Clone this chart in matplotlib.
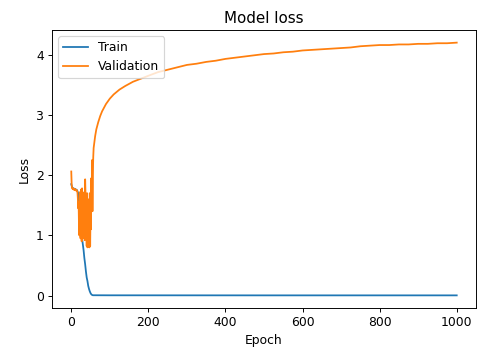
import matplotlib
matplotlib.use("Agg")
import matplotlib.pyplot as plt

# Validation loss
val_epochs = [0, 1, 2, 3, 4, 5, 6, 7, 8, 9, 10, 11, 12, 13, 14, 15, 16, 17, 18, 19,
              20, 21, 22, 23, 24, 25, 26, 27, 28, 29, 30, 31, 32, 33, 34, 35, 36, 37, 38, 39,
              40, 41, 42, 43, 44, 45, 46, 47, 48, 49, 50, 51, 52, 53, 54, 55, 56, 57, 58, 60,
              62, 65, 70, 75, 80, 90, 100, 110, 125, 140, 160, 180, 200, 225, 250, 275, 300,
              325, 350, 375, 400, 425, 450, 475, 500, 525, 550, 575, 600, 625, 650, 675, 700,
              725, 750, 775, 800, 825, 850, 875, 900, 925, 950, 975, 1000]
val_loss = [2.06, 1.85, 1.78, 1.78, 1.77, 1.78, 1.76, 1.77, 1.76, 1.77, 1.75, 1.76, 1.75, 1.74, 1.75, 1.73, 1.72, 1.62, 1.45, 1.55,
            1.15, 1.00, 1.30, 1.72, 0.95, 1.76, 1.10, 0.90, 1.78, 1.20, 0.95, 1.60, 1.00, 1.35, 1.72, 0.92, 1.93, 1.68, 1.05, 1.50,
            0.82, 1.70, 0.80, 1.45, 1.55, 1.00, 1.60, 0.80, 1.70, 0.82, 1.40, 1.10, 1.95, 1.40, 2.25, 1.40, 2.00, 2.30, 2.45, 2.55,
            2.65, 2.76, 2.88, 2.98, 3.06, 3.18, 3.27, 3.34, 3.42, 3.48, 3.55, 3.60, 3.65, 3.71, 3.75, 3.79, 3.83,
            3.85, 3.88, 3.90, 3.93, 3.95, 3.97, 3.99, 4.01, 4.02, 4.04, 4.05, 4.07, 4.08, 4.09, 4.10, 4.11,
            4.12, 4.14, 4.15, 4.16, 4.16, 4.17, 4.17, 4.18, 4.18, 4.19, 4.19, 4.20]

# Training loss
train_epochs = [0, 2, 5, 10, 15, 18, 20, 22, 25, 28, 30, 32, 34, 36, 38, 40, 42, 44, 46, 48,
                50, 52, 54, 56, 100, 500, 1000]
train_loss = [1.85, 1.80, 1.78, 1.77, 1.75, 1.70, 1.55, 1.40, 1.20, 0.95, 0.85, 0.75, 0.62, 0.52, 0.40, 0.30, 0.24, 0.16, 0.11, 0.07,
              0.04, 0.02, 0.01, 0.005, 0.004, 0.003, 0.003]

title = "Model loss"
xlabel = "Epoch"
ylabel = "Loss"
legend_labels = ["Train", "Validation"]

plt.rcParams["font.size"] = 10.5
dpi = 85
fig = plt.figure(figsize=(489 / dpi, 354 / dpi), dpi=dpi)
ax = fig.add_axes([52 / 489, 1 - 308 / 354, (476 - 52) / 489, (308 - 30) / 354])
ax.plot(train_epochs, train_loss, color="#1f77b4", label=legend_labels[0])
ax.plot(val_epochs, val_loss, color="#ff7f0e", label=legend_labels[1])
ax.set_title(title, fontsize=12.8)
ax.set_xlabel(xlabel)
ax.set_ylabel(ylabel)
ax.set_xticks([0, 200, 400, 600, 800, 1000])
ax.set_yticks([0, 1, 2, 3, 4])
ax.legend(loc="upper left")
fig.savefig("out.png", dpi=dpi)
